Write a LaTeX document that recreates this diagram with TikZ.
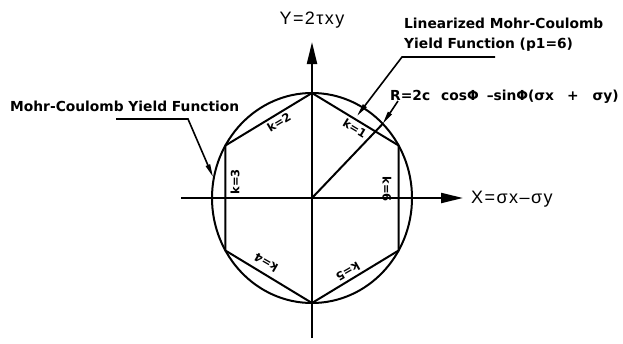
\documentclass[tikz,border=0pt]{standalone}
\usepackage{fontspec}
\setmainfont{Liberation Sans}
\newfontfamily\cadfont{DejaVu Sans}
\newfontfamily\axfont{Liberation Sans}[LetterSpace=8]
\usetikzlibrary{arrows.meta,calc,positioning}
\definecolor{inkCol}{HTML}{000000}
\tikzset{
  axis/.style={line width=2.1pt, inkCol, -{Triangle[length=22pt,width=10pt]}},
  curve/.style={line width=2pt, inkCol},
  lead/.style={line width=1.6pt, inkCol, -{Triangle[length=13pt,width=4.5pt]}},
  axlbl/.style={font=\axfont\fontsize{18}{20}\selectfont, inner sep=0pt},
  note/.style={font=\cadfont\bfseries\fontsize{13.8}{20}\selectfont, inner sep=0pt, align=left},
  klbl/.style={font=\cadfont\bfseries\fontsize{11.5}{12}\selectfont, inner sep=0pt},
}
\begin{document}
\begin{tikzpicture}[x=1pt,y=-1pt]
  \useasboundingbox (0,0) rectangle (623,343);
  \coordinate (O) at (312,198);
  % hexagon corners, clockwise from the top
  \coordinate (v1) at (312,93);
  \coordinate (v2) at (398.6,145.5);
  \coordinate (v3) at (398.6,250.5);
  \coordinate (v4) at (312,303);
  \coordinate (v5) at (225.4,250.5);
  \coordinate (v6) at (225.4,145.5);
  \coordinate (c45) at (382.7,123.8);

  % axes
  \coordinate (xl) at (181,198); \coordinate (xr) at (463,198);
  \coordinate (yb) at (312,338); \coordinate (yt) at (312,42);
  \draw[axis] (xl) -- (xr);
  \draw[axis] (yb) -- (yt);
  \node[axlbl] (ylbl) at (312,20) {Y=2τxy};
  \node[axlbl, anchor=west] (xlbl) at (471,199) {X=σx–σy};

  % yield surfaces
  \draw[curve] (O) ellipse [x radius=100pt, y radius=105pt];
  \draw[curve] (v1) -- (v2) -- (v3) -- (v4) -- (v5) -- (v6) -- cycle;
  \draw[curve] (O) -- (c45);

  \node[klbl, rotate=-31] (k1) at (355,128) {k=1};
  \node[klbl, rotate=31]  (k2) at (279,122) {k=2};
  \node[klbl, rotate=90]  (k3) at (235,182) {k=3};
  \node[klbl, rotate=150] (k4) at (266,263) {k=4};
  \node[klbl, rotate=210] (k5) at (348,272) {k=5};
  \node[klbl, rotate=-90] (k6) at (387,189) {k=6};

  % leaders
  \node[note, anchor=base west] (mcN) at (10,111) {Mohr-Coulomb Yield Function};
  \coordinate (mcA) at (116,119); \coordinate (mcB) at (188,119);
  \coordinate (mcT) at (213,177);
  \draw[lead] (mcA) -- (mcB) -- (mcT);

  \node[note, anchor=base west] (linN) at (404,48.5) {Linearized Mohr-Coulomb\\Yield Function (p1=6)};
  \coordinate (linA) at (495,57); \coordinate (linB) at (402,57);
  \coordinate (linT) at (357,116);
  \draw[lead] (linA) -- (linB) -- (linT);

  \node[note, anchor=base west] (rN) at (390,100) {R=2c\hspace{11pt}cosΦ\hspace{8pt}–sinΦ(σx\hspace{13pt}+\hspace{14pt}σy)};
  \coordinate (rA) at (398,101);
  \draw[lead] (rA) -- (c45);
\end{tikzpicture}
\end{document}
